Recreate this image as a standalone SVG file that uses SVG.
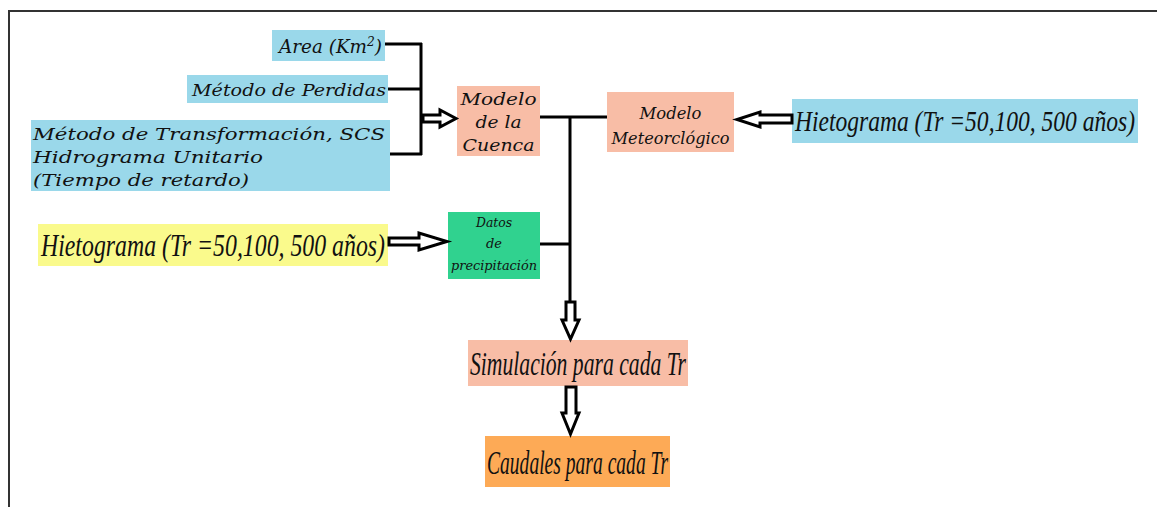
<svg xmlns="http://www.w3.org/2000/svg" width="1157" height="507" viewBox="0 0 1157 507">
  <style>
    .frame { fill: none; stroke: #333; stroke-width: 2; }
    .wire { fill: none; stroke: #000; stroke-width: 3; }
    .hollow { fill: #fff; stroke: #000; stroke-width: 3; stroke-linejoin: miter; }
    .blue { fill: #9ad8ea; }
    .salmon { fill: #f8bda6; }
    .green { fill: #30d28f; }
    .yellow { fill: #fafa8c; }
    .orange { fill: #fdaa56; }
    .wide { font-family: "DejaVu Serif", "Liberation Serif", serif; font-style: italic; fill: #111; }
    .tall { font-family: "Liberation Serif", "Times New Roman", serif; font-style: italic; fill: #111; }
  </style>

  <!-- page frame (top and left edges) -->
  <path class="frame" d="M9 507 V11 H1157"/>

  <g id="area">
    <rect class="blue" x="272" y="30" width="113" height="31"/>
    <text class="wide" x="279" y="53" font-size="18" textLength="103" lengthAdjust="spacingAndGlyphs">Area (Km<tspan font-size="12" dy="-7">2</tspan><tspan dy="7">)</tspan></text>
  </g>

  <g id="perdidas">
    <rect class="blue" x="187" y="75" width="201" height="28"/>
    <text class="wide" x="192" y="96" font-size="17" textLength="194" lengthAdjust="spacingAndGlyphs">Método de Perdidas</text>
  </g>

  <g id="transformacion">
    <rect class="blue" x="31" y="120" width="359" height="71"/>
    <text class="wide" x="33" y="140" font-size="17" textLength="352" lengthAdjust="spacingAndGlyphs">Método de Transformación, SCS</text>
    <text class="wide" x="33" y="163" font-size="17" textLength="230" lengthAdjust="spacingAndGlyphs">Hidrograma Unitario</text>
    <text class="wide" x="33" y="186" font-size="17" textLength="216" lengthAdjust="spacingAndGlyphs">(Tiempo de retardo)</text>
  </g>

  <g id="modelo-cuenca">
    <rect class="salmon" x="457" y="86" width="83" height="70"/>
    <text class="wide" x="498.5" y="105" font-size="16" text-anchor="middle" textLength="76" lengthAdjust="spacingAndGlyphs">Modelo</text>
    <text class="wide" x="498.5" y="128" font-size="16" text-anchor="middle" textLength="46" lengthAdjust="spacingAndGlyphs">de la</text>
    <text class="wide" x="498.5" y="151" font-size="16" text-anchor="middle" textLength="72" lengthAdjust="spacingAndGlyphs">Cuenca</text>
  </g>

  <g id="modelo-meteorologico">
    <rect class="salmon" x="607" y="92" width="127" height="60"/>
    <text class="wide" x="670.5" y="119" font-size="16" text-anchor="middle" textLength="62" lengthAdjust="spacingAndGlyphs">Modelo</text>
    <text class="wide" x="670.5" y="144" font-size="16" text-anchor="middle" textLength="118" lengthAdjust="spacingAndGlyphs">Meteorclógico</text>
  </g>

  <g id="hietograma-derecha">
    <rect class="blue" x="792" y="99" width="346" height="44"/>
    <text class="tall" x="795" y="131" font-size="30" textLength="340" lengthAdjust="spacingAndGlyphs">Hietograma (Tr =50,100, 500 años)</text>
  </g>

  <g id="hietograma-izquierda">
    <rect class="yellow" x="38" y="224" width="350" height="42"/>
    <text class="tall" x="41" y="256" font-size="31" textLength="344" lengthAdjust="spacingAndGlyphs">Hietograma (Tr =50,100, 500 años)</text>
  </g>

  <g id="datos-precipitacion">
    <rect class="green" x="448" y="212" width="92" height="67"/>
    <text class="wide" x="494" y="227" font-size="12" text-anchor="middle" textLength="36" lengthAdjust="spacingAndGlyphs">Datos</text>
    <text class="wide" x="494" y="248" font-size="12" text-anchor="middle" textLength="16" lengthAdjust="spacingAndGlyphs">de</text>
    <text class="wide" x="494" y="270" font-size="12" text-anchor="middle" textLength="86" lengthAdjust="spacingAndGlyphs">precipitación</text>
  </g>

  <g id="simulacion">
    <rect class="salmon" x="468" y="340" width="220" height="46"/>
    <text class="tall" x="470" y="375" font-size="33" textLength="216" lengthAdjust="spacingAndGlyphs">Simulación para cada Tr</text>
  </g>

  <g id="caudales">
    <rect class="orange" x="485" y="436" width="185" height="51"/>
    <text class="tall" x="487" y="474" font-size="33" textLength="181" lengthAdjust="spacingAndGlyphs">Caudales para cada Tr</text>
  </g>

  <g id="connectors">
    <!-- bracket collecting the basin parameters -->
    <path class="wire" d="M385 44 H422 M388 89 H422 M390 154 H422 M421 43 V155"/>
    <!-- basin model / meteorological model junction and trunk -->
    <path class="wire" d="M540 117 H607 M570 117 V303 M540 244 H570"/>
    <!-- hollow block arrows -->
    <polygon class="hollow" points="423,115 440,115 440,110 456,118.5 440,127 440,122 423,122"/>
    <polygon class="hollow" points="389,238 419,238 419,233 447,241.5 419,250 419,245 389,245"/>
    <polygon class="hollow" points="792,115 760,115 760,112 737,119.5 760,127 760,123 792,123"/>
    <polygon class="hollow" points="566,302 575,302 575,320 579,320 570.5,339 562,320 566,320"/>
    <polygon class="hollow" points="566,387 576,387 576,413 579,413 570.5,434 562,413 566,413"/>
  </g>
</svg>
